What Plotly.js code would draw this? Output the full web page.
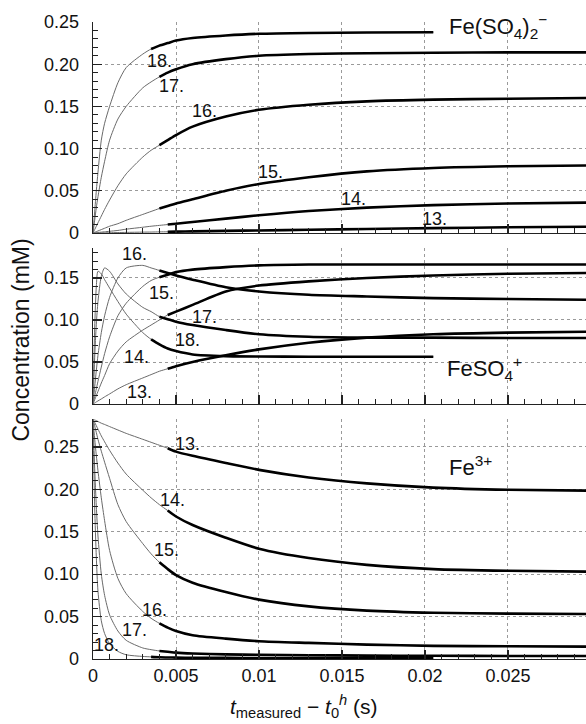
<!DOCTYPE html>
<html>
<head>
<meta charset="utf-8">
<script src="https://cdn.plot.ly/plotly-3.0.1.min.js"></script>
<style>html,body{margin:0;padding:0;background:#fff}#chart{width:586px;height:724px}</style>
</head>
<body>
<div id="chart"></div>
<script>
// time after mixing (s)
const T = [0, 0.0001, 0.0002, 0.0003, 0.0005, 0.0007, 0.001, 0.0015, 0.002, 0.003, 0.0035, 0.004, 0.0045, 0.005, 0.006, 0.008, 0.010, 0.013, 0.0165, 0.0205, 0.025, 0.030];

// experiment labels and the time from which each run is measured (drawn thick)
const RUNS = ['13.', '14.', '15.', '16.', '17.', '18.'];
const MEASURED_FROM = [0.0045, 0.0045, 0.004, 0.004, 0.004, 0.0035];

// Fe(SO4)2- concentration (mM), runs 13..18
const FESO4_2 = [
  [0, 0, 0, 0, 0.0001, 0.0002, 0.0003, 0.0005, 0.0007, 0.001, 0.0011, 0.0013, 0.0014, 0.0016, 0.0019, 0.0025, 0.003, 0.0038, 0.0047, 0.0057, 0.0067, 0.0075],
  [0, 0.0002, 0.0004, 0.0006, 0.001, 0.0014, 0.002, 0.003, 0.0045, 0.0068, 0.008, 0.009, 0.010, 0.011, 0.013, 0.017, 0.021, 0.026, 0.030, 0.033, 0.035, 0.036],
  [0, 0.0008, 0.0016, 0.0024, 0.004, 0.0056, 0.008, 0.011, 0.015, 0.022, 0.0255, 0.029, 0.032, 0.035, 0.040, 0.050, 0.058, 0.066, 0.073, 0.077, 0.079, 0.080],
  [0, 0.004, 0.008, 0.012, 0.020, 0.028, 0.039, 0.056, 0.070, 0.090, 0.098, 0.104, 0.110, 0.116, 0.126, 0.138, 0.146, 0.152, 0.156, 0.158, 0.159, 0.160],
  [0, 0.015, 0.030, 0.043, 0.066, 0.085, 0.110, 0.135, 0.150, 0.172, 0.179, 0.185, 0.190, 0.194, 0.200, 0.206, 0.210, 0.212, 0.213, 0.2135, 0.214, 0.214],
  [0, 0.025, 0.050, 0.072, 0.110, 0.130, 0.150, 0.178, 0.196, 0.212, 0.218, 0.222, 0.225, 0.228, 0.231, 0.234, 0.236, 0.237, 0.2375, 0.2378, null, null]
];

// FeSO4+ concentration (mM), runs 13..18
const FESO4 = [
  [0, 0.0012, 0.0025, 0.0037, 0.006, 0.0085, 0.012, 0.018, 0.023, 0.031, 0.035, 0.039, 0.042, 0.045, 0.050, 0.058, 0.065, 0.073, 0.079, 0.083, 0.085, 0.086],
  [0, 0.005, 0.010, 0.015, 0.025, 0.034, 0.048, 0.063, 0.074, 0.088, 0.094, 0.100, 0.106, 0.110, 0.118, 0.134, 0.141, 0.146, 0.150, 0.153, 0.155, 0.156],
  [0, 0.009, 0.018, 0.027, 0.044, 0.060, 0.080, 0.105, 0.120, 0.140, 0.147, 0.151, 0.154, 0.157, 0.160, 0.163, 0.165, 0.166, 0.166, 0.166, 0.166, 0.166],
  [0, 0.020, 0.040, 0.058, 0.085, 0.105, 0.127, 0.150, 0.162, 0.165, 0.162, 0.159, 0.156, 0.153, 0.148, 0.139, 0.134, 0.130, 0.128, 0.126, 0.125, 0.124],
  [0, 0.055, 0.095, 0.122, 0.152, 0.162, 0.158, 0.143, 0.131, 0.115, 0.110, 0.104, 0.101, 0.098, 0.094, 0.088, 0.083, 0.080, 0.079, 0.079, 0.0785, 0.0785],
  [0, 0.090, 0.140, 0.158, 0.155, 0.148, 0.138, 0.122, 0.107, 0.085, 0.077, 0.071, 0.066, 0.063, 0.059, 0.057, 0.0565, 0.0563, 0.0562, 0.0562, null, null]
];

// Fe3+ concentration (mM), runs 13..18
const FE3 = [
  [0.283, 0.282, 0.281, 0.280, 0.278, 0.2765, 0.274, 0.270, 0.266, 0.259, 0.2555, 0.252, 0.2485, 0.2445, 0.2395, 0.231, 0.223, 0.214, 0.207, 0.202, 0.1995, 0.1985],
  [0.283, 0.279, 0.275, 0.271, 0.263, 0.256, 0.246, 0.231, 0.218, 0.199, 0.190, 0.182, 0.175, 0.168, 0.158, 0.143, 0.130, 0.119, 0.111, 0.106, 0.104, 0.103],
  [0.283, 0.275, 0.267, 0.259, 0.245, 0.232, 0.213, 0.182, 0.162, 0.136, 0.124, 0.114, 0.106, 0.099, 0.090, 0.079, 0.070, 0.062, 0.057, 0.0545, 0.0535, 0.053],
  [0.283, 0.260, 0.240, 0.222, 0.190, 0.163, 0.128, 0.095, 0.077, 0.056, 0.048, 0.042, 0.037, 0.033, 0.028, 0.024, 0.021, 0.019, 0.017, 0.0155, 0.015, 0.0145],
  [0.283, 0.225, 0.180, 0.145, 0.100, 0.075, 0.052, 0.033, 0.022, 0.013, 0.011, 0.0095, 0.0085, 0.0075, 0.0065, 0.0055, 0.005, 0.0045, 0.004, 0.0038, 0.0036, 0.0035],
  [0.283, 0.180, 0.120, 0.080, 0.045, 0.030, 0.018, 0.009, 0.005, 0.003, 0.0025, 0.002, 0.0018, 0.0016, 0.0015, 0.0013, 0.0012, 0.0011, 0.001, 0.001, null, null]
];

// tick labels
const X_TICKS = [0, 0.005, 0.01, 0.015, 0.02, 0.025];
const X_TICK_TEXT = ['0', '0.005', '0.01', '0.015', '0.02', '0.025'];
const Y_TICKS_025 = [0, 0.05, 0.10, 0.15, 0.20, 0.25];
const Y_TICK_TEXT_025 = ['0', '0.05', '0.10', '0.15', '0.20', '0.25'];
const Y_TICKS_015 = [0, 0.05, 0.10, 0.15];
const Y_TICK_TEXT_015 = ['0', '0.05', '0.10', '0.15'];

// ---------- drawing ----------
const FONT = 'Liberation Sans, Arial, Helvetica, sans-serif';
const panels = [
  {values: FESO4_2, x: 'x3', y: 'y3'},
  {values: FESO4, x: 'x2', y: 'y2'},
  {values: FE3, x: 'x', y: 'y'}
];
const traces = [];
panels.forEach(p => {
  p.values.forEach((vals) => {
    traces.push({x: T, y: vals, xaxis: p.x, yaxis: p.y, type: 'scatter', mode: 'lines',
      line: {color: '#6a6a6a', width: 1, shape: 'spline', smoothing: 0.7},
      hoverinfo: 'skip', showlegend: false});
  });
  p.values.forEach((vals, k) => {
    const xs = [], ys = [];
    T.forEach((t, i) => { if (t >= MEASURED_FROM[k] - 1e-12 && vals[i] !== null) { xs.push(t); ys.push(vals[i]); } });
    traces.push({x: xs, y: ys, xaxis: p.x, yaxis: p.y, type: 'scatter', mode: 'lines',
      line: {color: '#000', width: 2.6, shape: 'spline', smoothing: 0.7},
      hoverinfo: 'skip', showlegend: false});
  });
});

const XMAX = 0.0297;
function xAxis(showLabels, anchor) {
  return {range: [0, XMAX], anchor: anchor, showline: true, linecolor: '#222', linewidth: 1.4,
    zeroline: false, showgrid: true, gridcolor: '#9a9a9a', griddash: 'dot', gridwidth: 1,
    tickmode: 'array', tickvals: X_TICKS, ticktext: X_TICK_TEXT, showticklabels: showLabels,
    ticks: 'inside', ticklen: 9, tickwidth: 1.2, tickcolor: '#222',
    minor: {tickmode: 'linear', tick0: 0, dtick: 0.001, ticks: 'inside', ticklen: 5, tickwidth: 1, tickcolor: '#222', showgrid: false},
    tickfont: {family: FONT, size: 18, color: '#111'}, fixedrange: true};
}
function yAxis(domain, max, vals, text, anchor) {
  return {domain: domain, range: [0, max], anchor: anchor, showline: true, linecolor: '#222', linewidth: 1.4,
    zeroline: false, showgrid: true, gridcolor: '#9a9a9a', griddash: 'dot', gridwidth: 1,
    tickmode: 'array', tickvals: vals, ticktext: text,
    ticks: 'inside', ticklen: 9, tickwidth: 1.2, tickcolor: '#222', ticklabelstandoff: 9,
    minor: {tickmode: 'linear', tick0: 0, dtick: 0.01, ticks: 'inside', ticklen: 5, tickwidth: 1, tickcolor: '#222', showgrid: false},
    tickfont: {family: FONT, size: 18, color: '#111'}, fixedrange: true};
}

const labelPos = [
  {x: 'x3', y: 'y3', pts: [[0.0206, 0.016], [0.0157, 0.040], [0.0107, 0.0717], [0.0067, 0.144], [0.0047, 0.1736], [0.0040, 0.204]]},
  {x: 'x2', y: 'y2', pts: [[0.0028, 0.0137], [0.0026, 0.0554], [0.0041, 0.1327], [0.0025, 0.178], [0.0067, 0.103], [0.0057, 0.0756]]},
  {x: 'x', y: 'y', pts: [[0.0057, 0.254], [0.0048, 0.1875], [0.0044, 0.129], [0.0037, 0.0578], [0.0025, 0.0336], [0.00084, 0.016]]}
];
const annotations = [];
labelPos.forEach(lp => {
  lp.pts.forEach((pt, k) => {
    annotations.push({x: pt[0], y: pt[1], xref: lp.x, yref: lp.y, text: RUNS[k], showarrow: false,
      xanchor: 'center', yanchor: 'middle', font: {family: FONT, size: 18, color: '#111'}});
  });
});
annotations.push(
  {x: 0.02133, y: 0.245, xref: 'x3', yref: 'y3', text: 'Fe(SO<sub>4</sub>)<sub>2</sub><sup>−</sup>', showarrow: false,
   xanchor: 'left', yanchor: 'middle', font: {family: FONT, size: 22, color: '#111'}},
  {x: 0.0212, y: 0.042, xref: 'x2', yref: 'y2', text: 'FeSO<sub>4</sub><sup>+</sup>', showarrow: false,
   xanchor: 'left', yanchor: 'middle', font: {family: FONT, size: 22, color: '#111'}},
  {x: 0.0213, y: 0.228, xref: 'x', yref: 'y', text: 'Fe<sup>3+</sup>', showarrow: false,
   xanchor: 'left', yanchor: 'middle', font: {family: FONT, size: 22, color: '#111'}},
  {x: -0.148, y: 0.5, xref: 'paper', yref: 'paper', text: 'Concentration (mM)', textangle: -90, showarrow: false,
   xanchor: 'center', yanchor: 'middle', font: {family: FONT, size: 23, color: '#111'}},
  {x: 0.429, y: -0.074, xref: 'paper', yref: 'paper', text: '<i>t</i><sub>measured</sub> − <i>t</i><sub>0</sub><sup><i>h</i></sup> (s)', showarrow: false,
   xanchor: 'center', yanchor: 'middle', font: {family: FONT, size: 21, color: '#111'}}
);

const layout = {
  width: 586, height: 724,
  margin: {l: 93, r: 0, t: 22, b: 65, pad: 0},
  paper_bgcolor: '#fff', plot_bgcolor: '#fff',
  showlegend: false,
  xaxis: xAxis(true, 'y'),
  xaxis2: Object.assign(xAxis(false, 'y2'), {matches: 'x'}),
  xaxis3: Object.assign(xAxis(false, 'y3'), {matches: 'x'}),
  yaxis: yAxis([0, 0.3763], 0.2826, Y_TICKS_025, Y_TICK_TEXT_025, 'x'),
  yaxis2: yAxis([0.4003, 0.6452], 0.1857, Y_TICKS_015, Y_TICK_TEXT_015, 'x2'),
  yaxis3: yAxis([0.6688, 1], 0.25, Y_TICKS_025, Y_TICK_TEXT_025, 'x3'),
  annotations: annotations
};

Plotly.newPlot('chart', traces, layout, {displayModeBar: false, staticPlot: true});
</script>
</body>
</html>
